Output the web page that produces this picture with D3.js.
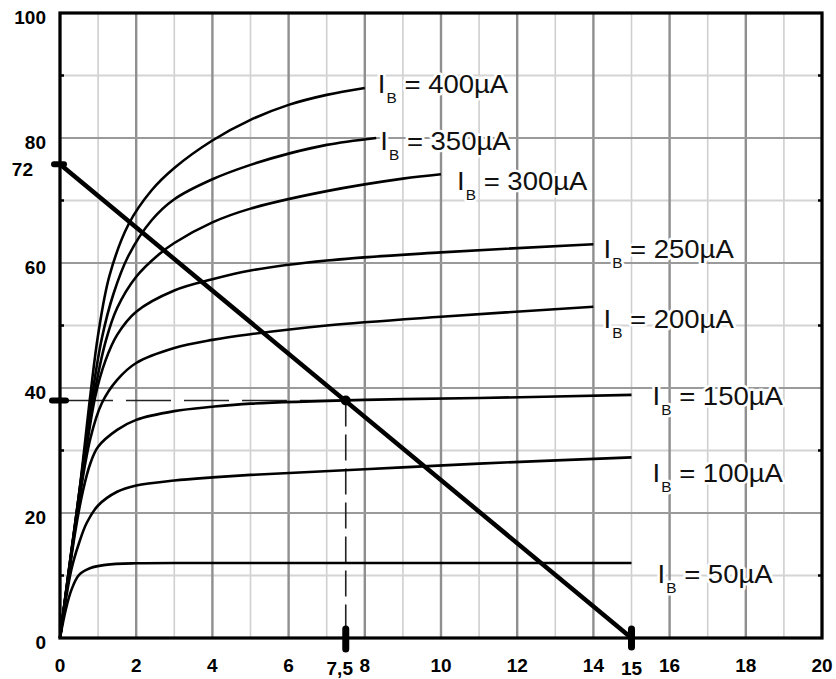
<!DOCTYPE html>
<html>
<head>
<meta charset="utf-8">
<script src="https://cdn.jsdelivr.net/npm/d3@7"></script>
<style>
  body { margin: 0; background: #fff; }
  svg { display: block; }
</style>
</head>
<body>
<script>
// DATA  (Vce in V, Ic in mA)
var ibNames = ["400µA", "350µA", "300µA", "250µA", "200µA", "150µA", "100µA", "50µA"];

var ib400 = [[0,0],[0.5,23],[0.8,39],[1.0,48.5],[1.3,58],[1.8,66.2],[2.4,71.6],[3,75.2],[4,79.6],[5,82.9],[6,85.3],[7,86.9],[8,88]];
var ib350 = [[0,0],[0.5,23],[0.85,39],[1.1,48],[1.4,55],[1.8,61.2],[2.4,66.8],[3,70.2],[4,73.4],[5,75.7],[6,77.5],[7,78.9],[8.3,80]];
var ib300 = [[0,0],[0.5,23],[0.9,39],[1.2,47.5],[1.5,52.8],[2,57.8],[2.6,61.4],[3,63.2],[4,66.5],[5,68.7],[7,71.5],[9,73.5],[10,74.2]];
var ib250 = [[0,0],[0.5,22],[0.92,38.5],[1.2,44.5],[1.5,48.5],[2,52.2],[3,55.6],[4,57.4],[5,58.8],[7,60.4],[10,61.7],[14,63]];
var ib200 = [[0,0],[0.4,18],[0.8,32],[1.1,37.6],[1.5,41.3],[2,44],[3,46.4],[4,47.7],[5,48.6],[7,50],[10,51.4],[14,53]];
var ib150 = [[0,0],[0.4,17],[0.6,23.5],[0.8,28],[1,30.6],[1.5,33.3],[2,34.9],[3,36.3],[4,37],[5,37.5],[8,38.1],[11,38.4],[15,38.9]];
var ib100 = [[0,0],[0.3,11],[0.5,15.2],[0.7,18.4],[1,21.2],[1.5,23.4],[2,24.4],[3,25.2],[4,25.7],[5,26.1],[8,27],[11,27.9],[15,28.9]];
var ib50  = [[0,0],[0.15,4.5],[0.3,7.7],[0.5,10.1],[0.8,11.2],[1.2,11.7],[2,11.95],[4,12],[15,12]];
var curves = [ib400, ib350, ib300, ib250, ib200, ib150, ib100, ib50];

var loadLine = [[0, 75.8], [15, 0]];
var qPoint = [7.5, 38];

var xTickLabels = [0, 2, 4, 6, 8, 10, 12, 14, 16, 18, 20];
var yTickLabels = [0, 20, 40, 60, 80, 100];
var xMinor = [1, 3, 5, 7, 9, 11, 13, 15, 17, 19];
var yMinor = [10, 30, 50, 70, 90];

// layout: label offsets from the end of each curve, in px
var labelOffset = [[13,5],[4,12],[16,16],[10,14],[10,21],[21,10],[21,25],[26,20]];

var W = 836, H = 679;
var margin = {top: 13, right: 14, bottom: 41, left: 60};

var svg = d3.select("body").append("svg")
    .attr("width", W)
    .attr("height", H);

var x = d3.scaleLinear().domain([0, 20]).range([margin.left, W - margin.right]);
var y = d3.scaleLinear().domain([0, 100]).range([H - margin.bottom, margin.top]);

// grid
var grid = svg.append("g");
grid.selectAll(".vmin").data(xMinor).enter().append("line")
    .attr("x1", d => x(d)).attr("x2", d => x(d))
    .attr("y1", y(0)).attr("y2", y(100))
    .attr("stroke", "#cfcfcf").attr("stroke-width", 1.6);
grid.selectAll(".hmin").data(yMinor).enter().append("line")
    .attr("x1", x(0)).attr("x2", x(20))
    .attr("y1", d => y(d)).attr("y2", d => y(d))
    .attr("stroke", "#d4d4d4").attr("stroke-width", 1.8);
grid.selectAll(".vmaj").data(xTickLabels).enter().append("line")
    .attr("x1", d => x(d)).attr("x2", d => x(d))
    .attr("y1", y(0)).attr("y2", y(100))
    .attr("stroke", "#8f8f8f").attr("stroke-width", 2.4);
grid.selectAll(".hmaj").data(yTickLabels).enter().append("line")
    .attr("x1", x(0)).attr("x2", x(20))
    .attr("y1", d => y(d)).attr("y2", d => y(d))
    .attr("stroke", "#9a9a9a").attr("stroke-width", 2.2);

// small black ticks on the frame at minor lines
var ticks = svg.append("g").attr("stroke", "#000").attr("stroke-width", 2.5);
yMinor.forEach(function(v) {
  ticks.append("line").attr("x1", x(0)).attr("x2", x(0) + 4).attr("y1", y(v)).attr("y2", y(v));
  ticks.append("line").attr("x1", x(20) - 4).attr("x2", x(20)).attr("y1", y(v)).attr("y2", y(v));
});

// frame
svg.append("rect")
    .attr("x", x(0)).attr("y", y(100))
    .attr("width", x(20) - x(0)).attr("height", y(0) - y(100))
    .attr("fill", "none").attr("stroke", "#000").attr("stroke-width", 3.2);

// dashed guides to the Q point
svg.append("line")
    .attr("x1", x(0)).attr("x2", x(qPoint[0]))
    .attr("y1", y(qPoint[1])).attr("y2", y(qPoint[1]))
    .attr("stroke", "#222").attr("stroke-width", 1.6)
    .attr("stroke-dasharray", "45,13").attr("stroke-dashoffset", -8);
svg.append("line")
    .attr("x1", x(qPoint[0])).attr("x2", x(qPoint[0]))
    .attr("y1", y(qPoint[1])).attr("y2", y(0))
    .attr("stroke", "#222").attr("stroke-width", 1.6)
    .attr("stroke-dasharray", "26,8");

// characteristic curves
var line = d3.line().x(d => x(d[0])).y(d => y(d[1])).curve(d3.curveCatmullRom.alpha(0.5));
svg.append("g").selectAll("path").data(curves).enter().append("path")
    .attr("d", line)
    .attr("fill", "none").attr("stroke", "#000").attr("stroke-width", 2.6)
    .attr("stroke-linejoin", "round");

// load line
svg.append("path")
    .attr("d", d3.line().x(d => x(d[0])).y(d => y(d[1]))(loadLine))
    .attr("fill", "none").attr("stroke", "#000").attr("stroke-width", 4.5);

// Q point
svg.append("circle")
    .attr("cx", x(qPoint[0])).attr("cy", y(qPoint[1])).attr("r", 5)
    .attr("fill", "#000");

// axis markers
var mk = svg.append("g").attr("stroke", "#000").attr("stroke-linecap", "round");
mk.append("line").attr("x1", x(0) - 6).attr("x2", x(0) + 4)
    .attr("y1", y(loadLine[0][1])).attr("y2", y(loadLine[0][1])).attr("stroke-width", 6);
mk.append("line").attr("x1", x(0) - 8).attr("x2", x(0) + 6)
    .attr("y1", y(qPoint[1])).attr("y2", y(qPoint[1])).attr("stroke-width", 6);
mk.append("line").attr("x1", x(qPoint[0])).attr("x2", x(qPoint[0]))
    .attr("y1", y(0) - 9).attr("y2", y(0) + 11).attr("stroke-width", 7);
mk.append("line").attr("x1", x(loadLine[1][0])).attr("x2", x(loadLine[1][0]))
    .attr("y1", y(0) - 9).attr("y2", y(0) + 9).attr("stroke-width", 7);

// tick labels
var tickFont = {"font-family": "'Liberation Sans', Arial, sans-serif", "font-size": "19px", "font-weight": "bold"};
function applyFont(sel) { Object.keys(tickFont).forEach(k => sel.attr(k, tickFont[k])); return sel; }

applyFont(svg.append("g").selectAll("text").data(yTickLabels).enter().append("text")
    .attr("x", 46).attr("y", d => y(d) + 11)
    .attr("text-anchor", "end")
    .text(d => d));
applyFont(svg.append("g").selectAll("text").data(xTickLabels).enter().append("text")
    .attr("x", d => x(d)).attr("y", 672)
    .attr("text-anchor", "middle")
    .text(d => d));

// special labels
applyFont(svg.append("text").attr("x", 33).attr("y", 176).attr("text-anchor", "end").text("72"));
applyFont(svg.append("text").attr("x", x(qPoint[0]) - 6).attr("y", 675).attr("text-anchor", "middle").text("7,5"));
applyFont(svg.append("text").attr("x", x(loadLine[1][0])).attr("y", 675).attr("text-anchor", "middle").text("15"));

// I_B labels
curves.forEach(function(c, i) {
  var end = c[c.length - 1];
  var t = svg.append("text")
      .attr("transform", "translate(" + (x(end[0]) + labelOffset[i][0]) + "," + (y(end[1]) + labelOffset[i][1]) + ") scale(1.1,1)")
      .attr("font-family", "'Liberation Sans', Arial, sans-serif")
      .attr("font-size", "25px")
      .attr("fill", "#111")
      .attr("stroke", "#fff").attr("stroke-width", 5)
      .attr("paint-order", "stroke")
      .attr("stroke-linejoin", "round");
  t.append("tspan").text("I");
  t.append("tspan").attr("font-size", "14px").attr("dy", 10).attr("dx", 1).text("B");
  t.append("tspan").attr("dy", -10).text(" = " + ibNames[i]);
});
</script>
</body>
</html>
